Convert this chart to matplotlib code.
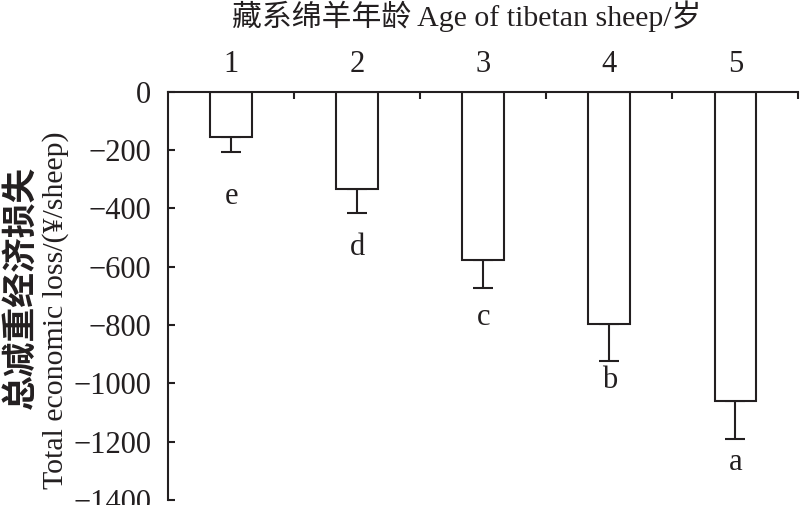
import numpy as np
import matplotlib
matplotlib.use('Agg')
import matplotlib.pyplot as plt
from matplotlib.ticker import MultipleLocator, FixedLocator

plt.rcParams['font.family'] = ['Liberation Serif', 'Noto Sans CJK SC']

ages = [1, 2, 3, 4, 5]
loss = [-155, -334, -578, -798, -1060]      # mean loss, yuan per sheep
err = [50, 80, 96, 124, 130]                # error bar length (downward)
letters = ['e', 'd', 'c', 'b', 'a']
letter_y = [-360, -535, -775, -990, -1270]

ink = '#231f20'

fig = plt.figure(figsize=(8, 5.05), dpi=100)
ax = fig.add_axes([0.21, 0.01, 0.788, 0.808])

ax.bar(ages, loss, width=0.33, color='white', edgecolor=ink, linewidth=1.5,
       zorder=2)
ax.errorbar(ages, loss, yerr=[err, [0] * 5], fmt='none', ecolor=ink,
            elinewidth=1.5, capsize=7, capthick=1.5, zorder=1)
for x, y, t in zip(ages, letter_y, letters):
    ax.text(x, y, t, ha='center', va='center', fontsize=22, color=ink)

ax.set_xlim(0.5, 5.5)
ax.set_ylim(-1400, 0)
ax.xaxis.tick_top()
ax.set_xticks(ages)
ax.xaxis.set_minor_locator(FixedLocator([1.5, 2.5, 3.5, 4.5, 5.5]))
ax.yaxis.set_major_locator(MultipleLocator(200))
ax.tick_params(axis='x', which='major', length=0, pad=9, labelsize=22,
               colors=ink)
ax.tick_params(axis='x', which='minor', direction='in', length=5, width=1.5,
               color=ink)
ax.tick_params(axis='y', direction='in', length=5, width=1.5, labelsize=22,
               colors=ink, pad=12)
ax.set_yticklabels(['\u2212%d' % (-v) if v < 0 else '%d' % v
                    for v in ax.get_yticks()])

for s in ['right', 'bottom']:
    ax.spines[s].set_visible(False)
for s in ['left', 'top']:
    ax.spines[s].set_linewidth(1.5)
    ax.spines[s].set_color(ink)

fig.text(0.583, 0.968, '藏系绵羊年龄 Age of tibetan sheep/岁', ha='center',
         va='center', fontsize=21.5, color=ink)
fig.text(0.029, 0.43, '总减重经济损失', rotation=90, ha='center', va='center',
         fontsize=25, fontweight='bold', color=ink)
fig.text(0.069, 0.386, 'Total economic loss/(¥/sheep)', rotation=90,
         ha='center', va='center', fontsize=21.5, color=ink)

plt.savefig('out.png', dpi=100)
